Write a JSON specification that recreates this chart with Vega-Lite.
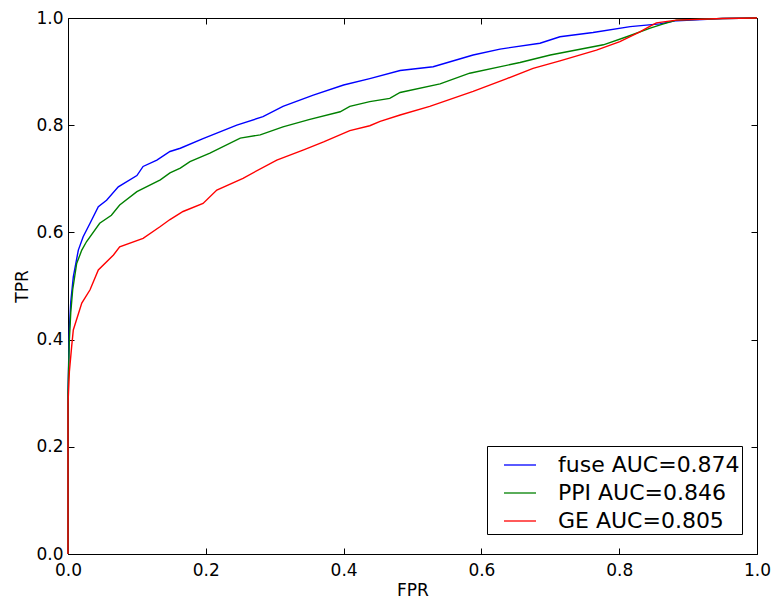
{
  "$schema": "https://vega.github.io/schema/vega-lite/v6.json",
  "width": 689,
  "height": 536,
  "autosize": {"type": "none"},
  "padding": {"left": 68, "top": 18, "right": 19, "bottom": 50},
  "background": "white",
  "config": {
    "view": {"stroke": "black", "strokeWidth": 1},
    "font": "DejaVu Sans",
    "axis": {
      "grid": false,
      "domain": false,
      "labelFlush": false,
      "tickColor": "black",
      "tickSize": -6,
      "tickWidth": 1,
      "labelFont": "DejaVu Sans",
      "labelFontSize": 17,
      "labelColor": "black",
      "titleFont": "DejaVu Sans",
      "titleFontSize": 17,
      "titleFontWeight": "normal",
      "titleColor": "black"
    }
  },
  "data": {
    "values": [
      {"model": "fuse AUC=0.874", "fpr": 0, "tpr": 0},
      {"model": "fuse AUC=0.874", "fpr": 0, "tpr": 0.3},
      {"model": "fuse AUC=0.874", "fpr": 0.002, "tpr": 0.42},
      {"model": "fuse AUC=0.874", "fpr": 0.004, "tpr": 0.47},
      {"model": "fuse AUC=0.874", "fpr": 0.0077, "tpr": 0.517},
      {"model": "fuse AUC=0.874", "fpr": 0.015, "tpr": 0.567},
      {"model": "fuse AUC=0.874", "fpr": 0.022, "tpr": 0.592},
      {"model": "fuse AUC=0.874", "fpr": 0.032, "tpr": 0.617},
      {"model": "fuse AUC=0.874", "fpr": 0.044, "tpr": 0.648},
      {"model": "fuse AUC=0.874", "fpr": 0.056, "tpr": 0.66},
      {"model": "fuse AUC=0.874", "fpr": 0.073, "tpr": 0.685},
      {"model": "fuse AUC=0.874", "fpr": 0.1, "tpr": 0.706},
      {"model": "fuse AUC=0.874", "fpr": 0.109, "tpr": 0.723},
      {"model": "fuse AUC=0.874", "fpr": 0.129, "tpr": 0.735},
      {"model": "fuse AUC=0.874", "fpr": 0.148, "tpr": 0.751},
      {"model": "fuse AUC=0.874", "fpr": 0.163, "tpr": 0.757},
      {"model": "fuse AUC=0.874", "fpr": 0.196, "tpr": 0.775},
      {"model": "fuse AUC=0.874", "fpr": 0.245, "tpr": 0.8},
      {"model": "fuse AUC=0.874", "fpr": 0.283, "tpr": 0.816},
      {"model": "fuse AUC=0.874", "fpr": 0.312, "tpr": 0.835},
      {"model": "fuse AUC=0.874", "fpr": 0.356, "tpr": 0.856},
      {"model": "fuse AUC=0.874", "fpr": 0.4, "tpr": 0.875},
      {"model": "fuse AUC=0.874", "fpr": 0.438, "tpr": 0.887},
      {"model": "fuse AUC=0.874", "fpr": 0.482, "tpr": 0.902},
      {"model": "fuse AUC=0.874", "fpr": 0.53, "tpr": 0.909},
      {"model": "fuse AUC=0.874", "fpr": 0.588, "tpr": 0.931},
      {"model": "fuse AUC=0.874", "fpr": 0.627, "tpr": 0.942},
      {"model": "fuse AUC=0.874", "fpr": 0.685, "tpr": 0.953},
      {"model": "fuse AUC=0.874", "fpr": 0.714, "tpr": 0.965},
      {"model": "fuse AUC=0.874", "fpr": 0.762, "tpr": 0.973},
      {"model": "fuse AUC=0.874", "fpr": 0.816, "tpr": 0.984},
      {"model": "fuse AUC=0.874", "fpr": 0.859, "tpr": 0.989},
      {"model": "fuse AUC=0.874", "fpr": 0.883, "tpr": 0.995},
      {"model": "fuse AUC=0.874", "fpr": 0.95, "tpr": 0.999},
      {"model": "fuse AUC=0.874", "fpr": 1, "tpr": 1},
      {"model": "PPI AUC=0.846", "fpr": 0, "tpr": 0},
      {"model": "PPI AUC=0.846", "fpr": 0, "tpr": 0.3},
      {"model": "PPI AUC=0.846", "fpr": 0.002, "tpr": 0.4},
      {"model": "PPI AUC=0.846", "fpr": 0.004, "tpr": 0.45},
      {"model": "PPI AUC=0.846", "fpr": 0.0068, "tpr": 0.493},
      {"model": "PPI AUC=0.846", "fpr": 0.0126, "tpr": 0.542},
      {"model": "PPI AUC=0.846", "fpr": 0.02, "tpr": 0.567},
      {"model": "PPI AUC=0.846", "fpr": 0.027, "tpr": 0.583},
      {"model": "PPI AUC=0.846", "fpr": 0.046, "tpr": 0.617},
      {"model": "PPI AUC=0.846", "fpr": 0.063, "tpr": 0.632},
      {"model": "PPI AUC=0.846", "fpr": 0.075, "tpr": 0.651},
      {"model": "PPI AUC=0.846", "fpr": 0.1, "tpr": 0.676},
      {"model": "PPI AUC=0.846", "fpr": 0.134, "tpr": 0.698},
      {"model": "PPI AUC=0.846", "fpr": 0.148, "tpr": 0.711},
      {"model": "PPI AUC=0.846", "fpr": 0.163, "tpr": 0.72},
      {"model": "PPI AUC=0.846", "fpr": 0.177, "tpr": 0.732},
      {"model": "PPI AUC=0.846", "fpr": 0.206, "tpr": 0.748},
      {"model": "PPI AUC=0.846", "fpr": 0.25, "tpr": 0.776},
      {"model": "PPI AUC=0.846", "fpr": 0.279, "tpr": 0.782},
      {"model": "PPI AUC=0.846", "fpr": 0.312, "tpr": 0.797},
      {"model": "PPI AUC=0.846", "fpr": 0.351, "tpr": 0.811},
      {"model": "PPI AUC=0.846", "fpr": 0.395, "tpr": 0.825},
      {"model": "PPI AUC=0.846", "fpr": 0.409, "tpr": 0.835},
      {"model": "PPI AUC=0.846", "fpr": 0.438, "tpr": 0.844},
      {"model": "PPI AUC=0.846", "fpr": 0.467, "tpr": 0.85},
      {"model": "PPI AUC=0.846", "fpr": 0.482, "tpr": 0.861},
      {"model": "PPI AUC=0.846", "fpr": 0.54, "tpr": 0.877},
      {"model": "PPI AUC=0.846", "fpr": 0.583, "tpr": 0.897},
      {"model": "PPI AUC=0.846", "fpr": 0.656, "tpr": 0.917},
      {"model": "PPI AUC=0.846", "fpr": 0.7, "tpr": 0.931},
      {"model": "PPI AUC=0.846", "fpr": 0.777, "tpr": 0.95},
      {"model": "PPI AUC=0.846", "fpr": 0.811, "tpr": 0.965},
      {"model": "PPI AUC=0.846", "fpr": 0.845, "tpr": 0.981},
      {"model": "PPI AUC=0.846", "fpr": 0.862, "tpr": 0.988},
      {"model": "PPI AUC=0.846", "fpr": 0.883, "tpr": 0.996},
      {"model": "PPI AUC=0.846", "fpr": 0.95, "tpr": 0.999},
      {"model": "PPI AUC=0.846", "fpr": 1, "tpr": 1},
      {"model": "GE AUC=0.805", "fpr": 0, "tpr": 0},
      {"model": "GE AUC=0.805", "fpr": 0, "tpr": 0.28},
      {"model": "GE AUC=0.805", "fpr": 0.002, "tpr": 0.34},
      {"model": "GE AUC=0.805", "fpr": 0.0053, "tpr": 0.387},
      {"model": "GE AUC=0.805", "fpr": 0.0077, "tpr": 0.418},
      {"model": "GE AUC=0.805", "fpr": 0.02, "tpr": 0.468},
      {"model": "GE AUC=0.805", "fpr": 0.032, "tpr": 0.493},
      {"model": "GE AUC=0.805", "fpr": 0.044, "tpr": 0.53},
      {"model": "GE AUC=0.805", "fpr": 0.066, "tpr": 0.558},
      {"model": "GE AUC=0.805", "fpr": 0.075, "tpr": 0.573},
      {"model": "GE AUC=0.805", "fpr": 0.109, "tpr": 0.589},
      {"model": "GE AUC=0.805", "fpr": 0.134, "tpr": 0.611},
      {"model": "GE AUC=0.805", "fpr": 0.148, "tpr": 0.624},
      {"model": "GE AUC=0.805", "fpr": 0.163, "tpr": 0.636},
      {"model": "GE AUC=0.805", "fpr": 0.167, "tpr": 0.639},
      {"model": "GE AUC=0.805", "fpr": 0.196, "tpr": 0.654},
      {"model": "GE AUC=0.805", "fpr": 0.216, "tpr": 0.679},
      {"model": "GE AUC=0.805", "fpr": 0.254, "tpr": 0.701},
      {"model": "GE AUC=0.805", "fpr": 0.303, "tpr": 0.735},
      {"model": "GE AUC=0.805", "fpr": 0.342, "tpr": 0.754},
      {"model": "GE AUC=0.805", "fpr": 0.371, "tpr": 0.769},
      {"model": "GE AUC=0.805", "fpr": 0.409, "tpr": 0.79},
      {"model": "GE AUC=0.805", "fpr": 0.438, "tpr": 0.799},
      {"model": "GE AUC=0.805", "fpr": 0.453, "tpr": 0.807},
      {"model": "GE AUC=0.805", "fpr": 0.482, "tpr": 0.819},
      {"model": "GE AUC=0.805", "fpr": 0.525, "tpr": 0.835},
      {"model": "GE AUC=0.805", "fpr": 0.588, "tpr": 0.863},
      {"model": "GE AUC=0.805", "fpr": 0.637, "tpr": 0.887},
      {"model": "GE AUC=0.805", "fpr": 0.675, "tpr": 0.906},
      {"model": "GE AUC=0.805", "fpr": 0.714, "tpr": 0.92},
      {"model": "GE AUC=0.805", "fpr": 0.767, "tpr": 0.94},
      {"model": "GE AUC=0.805", "fpr": 0.801, "tpr": 0.956},
      {"model": "GE AUC=0.805", "fpr": 0.83, "tpr": 0.974},
      {"model": "GE AUC=0.805", "fpr": 0.845, "tpr": 0.985},
      {"model": "GE AUC=0.805", "fpr": 0.854, "tpr": 0.991},
      {"model": "GE AUC=0.805", "fpr": 0.883, "tpr": 0.996},
      {"model": "GE AUC=0.805", "fpr": 0.95, "tpr": 0.999},
      {"model": "GE AUC=0.805", "fpr": 1, "tpr": 1}
    ]
  },
  "layer": [
    {
      "mark": {"type": "line", "strokeWidth": 1.4},
      "encoding": {
        "x": {
          "field": "fpr",
          "type": "quantitative",
          "scale": {"domain": [0, 1], "nice": false, "zero": false},
          "axis": {
            "title": "FPR",
            "values": [0, 0.2, 0.4, 0.6, 0.8, 1],
            "format": ".1f",
            "labelPadding": 14,
            "titleBaseline": "alphabetic",
            "titleX": 344.5,
            "titleY": 41
          }
        },
        "y": {
          "field": "tpr",
          "type": "quantitative",
          "scale": {"domain": [0, 1], "nice": false, "zero": false},
          "axis": {
            "title": "TPR",
            "values": [0, 0.2, 0.4, 0.6, 0.8, 1],
            "format": ".1f",
            "labelPadding": 11,
            "titleBaseline": "alphabetic",
            "titleX": -41,
            "titleY": 268
          }
        },
        "color": {
          "field": "model",
          "type": "nominal",
          "scale": {
            "domain": ["fuse AUC=0.874", "PPI AUC=0.846", "GE AUC=0.805"],
            "range": ["#0000ff", "#008000", "#ff0000"]
          },
          "legend": {
            "title": null,
            "orient": "none",
            "legendX": 419,
            "legendY": 428,
            "labelFont": "DejaVu Sans",
            "labelFontSize": 22,
            "labelColor": "black",
            "symbolSize": 1024,
            "symbolStrokeWidth": 1.3,
            "symbolType": "stroke",
            "padding": 2,
            "symbolOffset": 14,
            "labelOffset": 21,
            "rowPadding": 0,
            "labelLimit": 400,
            "fillColor": "white",
            "strokeColor": "black",
            "cornerRadius": 0
          }
        },
        "order": {"value": null}
      }
    },
    {
      "mark": {"type": "line", "opacity": 0},
      "encoding": {
        "x": {
          "field": "fpr",
          "type": "quantitative",
          "axis": {"orient": "top", "labels": false, "title": null, "values": [0, 0.2, 0.4, 0.6, 0.8, 1]}
        },
        "y": {
          "field": "tpr",
          "type": "quantitative",
          "axis": {"orient": "right", "labels": false, "title": null, "values": [0, 0.2, 0.4, 0.6, 0.8, 1]}
        },
        "order": {"value": null}
      }
    }
  ],
  "resolve": {"axis": {"x": "independent", "y": "independent"}}
}
